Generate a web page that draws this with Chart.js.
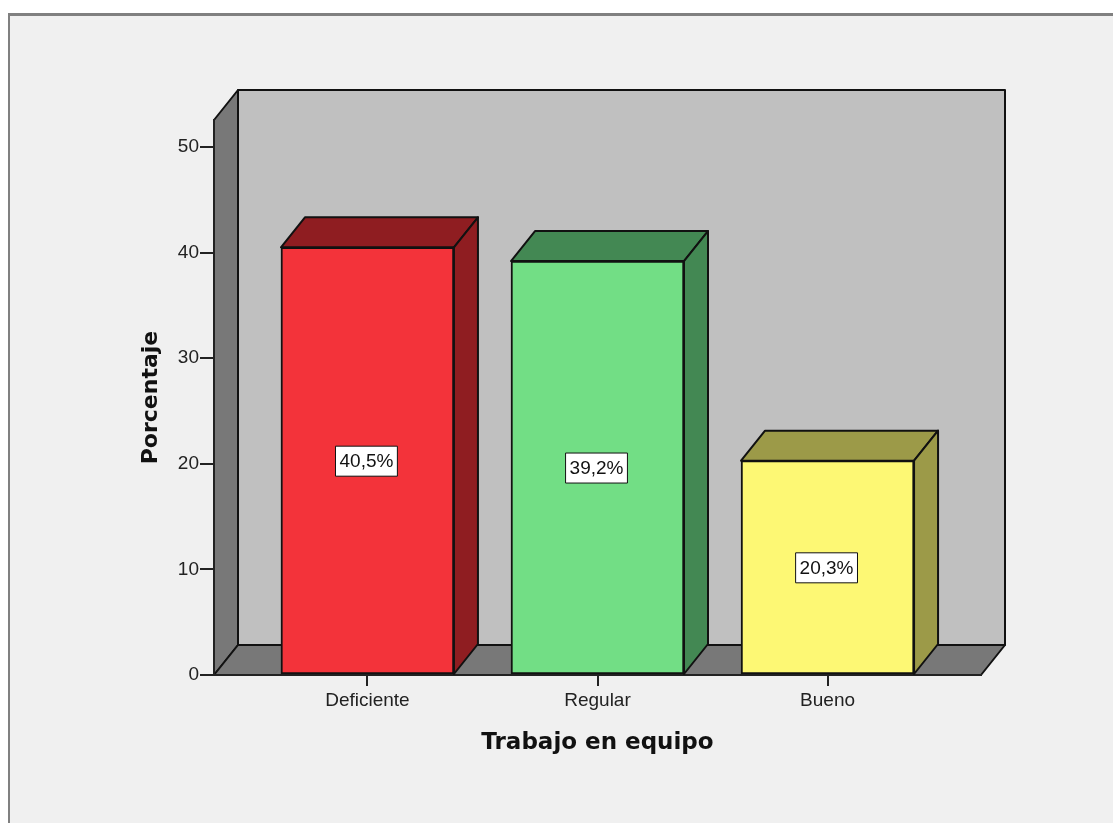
<!DOCTYPE html>
<html lang="es">
<head>
<meta charset="utf-8">
<title>Trabajo en equipo</title>
<script src="https://cdn.jsdelivr.net/npm/chart.js@4"></script>
<style>
   html, body { margin: 0; height: 100%; background: #fff; overflow: hidden; }
   #marco { position: absolute; left: 8px; top: 13px; right: 0; bottom: 0; background: #f0f0f0; border-left: 2px solid #808080; border-top: 3px solid #808080; }
   #grafico { position: absolute; left: 0; top: 0; }
</style>
</head>
<body>
<div id="marco"></div>
<canvas id="grafico" width="1113" height="823"></canvas>
<script>
// datos
const categorias = ["Deficiente", "Regular", "Bueno"];
const porcentajes = [40.5, 39.2, 20.3];
const etiquetasValor = ["40,5%", "39,2%", "20,3%"];
const ticksY = [0, 10, 20, 30, 40, 50];

// colores: cara frontal y cara oscura de cada barra
const coloresBarra = ["#f3333a", "#72de85", "#fdf874"];
const coloresOscuros = ["#8f1d21", "#438853", "#9c9a48"];

// profundidad del efecto 3D en píxeles
const fondoX = 24;
const fondoY = -30;
const fuente = '"Liberation Sans", Arial, sans-serif';

function cara(ctx, puntos, relleno) {
   ctx.beginPath();
   puntos.forEach((p, i) => i ? ctx.lineTo(p[0], p[1]) : ctx.moveTo(p[0], p[1]));
   ctx.closePath();
   ctx.fillStyle = relleno;
   ctx.fill();
   ctx.lineWidth = 2;
   ctx.strokeStyle = "#111";
   ctx.lineJoin = "round";
   ctx.stroke();
}

// pared del fondo, pared izquierda y suelo
const paredes = {
   id: 'paredes',
   beforeDraw(chart) {
      const { ctx, chartArea: a } = chart;
      ctx.save();
      cara(ctx, [[a.left + fondoX, a.top + fondoY], [a.right + fondoX, a.top + fondoY], [a.right + fondoX, a.bottom + fondoY], [a.left + fondoX, a.bottom + fondoY]], "#c0c0c0");
      cara(ctx, [[a.left, a.top], [a.left + fondoX, a.top + fondoY], [a.left + fondoX, a.bottom + fondoY], [a.left, a.bottom]], "#787878");
      cara(ctx, [[a.left, a.bottom], [a.left + fondoX, a.bottom + fondoY], [a.right + fondoX, a.bottom + fondoY], [a.right, a.bottom]], "#787878");
      ctx.restore();
   }
};

// caras superior y lateral de las barras, y las etiquetas de valor
const barras3d = {
   id: 'barras3d',
   afterDatasetsDraw(chart) {
      const { ctx } = chart;
      const escalaY = chart.scales.y;
      ctx.save();
      chart.getDatasetMeta(0).data.forEach((barra, i) => {
         const izq = barra.x - barra.width / 2;
         const der = barra.x + barra.width / 2;
         const arriba = barra.y;
         const abajo = barra.base;
         cara(ctx, [[izq, arriba], [izq + fondoX, arriba + fondoY], [der + fondoX, arriba + fondoY], [der, arriba]], coloresOscuros[i]);
         cara(ctx, [[der, arriba], [der + fondoX, arriba + fondoY], [der + fondoX, abajo + fondoY], [der, abajo]], coloresOscuros[i]);

         const medioY = escalaY.getPixelForValue(porcentajes[i] / 2);
         ctx.font = `19px ${fuente}`;
         const ancho = ctx.measureText(etiquetasValor[i]).width + 8;
         ctx.fillStyle = "#fff";
         ctx.fillRect(barra.x - ancho / 2 - 1, medioY - 15, ancho, 30);
         ctx.strokeStyle = "#111";
         ctx.lineWidth = 1;
         ctx.strokeRect(barra.x - ancho / 2 - 1, medioY - 15, ancho, 30);
         ctx.fillStyle = "#111";
         ctx.textAlign = "center";
         ctx.textBaseline = "middle";
         ctx.fillText(etiquetasValor[i], barra.x - 1, medioY + 1);
      });
      ctx.restore();
   }
};

new Chart(document.getElementById('grafico'), {
   type: 'bar',
   data: {
      datasets: [{
         data: categorias.map((c, i) => ({ x: i, y: porcentajes[i] })),
         backgroundColor: coloresBarra,
         borderColor: "#111",
         borderWidth: 2,
         borderSkipped: false,
         barThickness: 173
      }]
   },
   plugins: [paredes, barras3d],
   options: {
      responsive: false,
      animation: false,
      events: [],
      layout: { padding: { left: 0, right: 132, top: 120, bottom: 0 } },
      plugins: { legend: { display: false }, tooltip: { enabled: false } },
      scales: {
         x: {
            type: 'linear',
            offset: false,
            min: -0.667,
            max: 2.667,
            afterFit(escala) { escala.height = 148; },
            afterBuildTicks(escala) { escala.ticks = categorias.map((c, i) => ({ value: i })); },
            grid: { offset: false, drawOnChartArea: false, color: "#222", lineWidth: 2, tickLength: 11 },
            border: { color: "#222", width: 2 },
            ticks: {
               autoSkip: false,
               maxRotation: 0,
               padding: 3,
               color: "#222",
               font: { family: fuente, size: 19 },
               callback: v => categorias[v]
            },
            title: {
               display: true,
               text: "Trabajo en equipo",
               color: "#111",
               font: { family: '"DejaVu Sans", sans-serif', size: 23, weight: 'bold' },
               padding: { top: 0, bottom: 66 }
            }
         },
         y: {
            min: 0,
            max: 52.56,
            afterFit(escala) { escala.width = 214; },
            afterBuildTicks(escala) { escala.ticks = ticksY.map(v => ({ value: v })); },
            grid: { drawOnChartArea: false, color: "#222", lineWidth: 2, tickLength: 14 },
            border: { color: "#222", width: 2 },
            ticks: {
               padding: 1,
               color: "#222",
               font: { family: fuente, size: 19 }
            },
            title: {
               display: true,
               text: "Porcentaje",
               color: "#111",
               font: { family: '"DejaVu Sans", sans-serif', size: 22, weight: 'bold' },
               padding: { top: 138, bottom: 0 }
            }
         }
      }
   }
});
</script>
</body>
</html>
